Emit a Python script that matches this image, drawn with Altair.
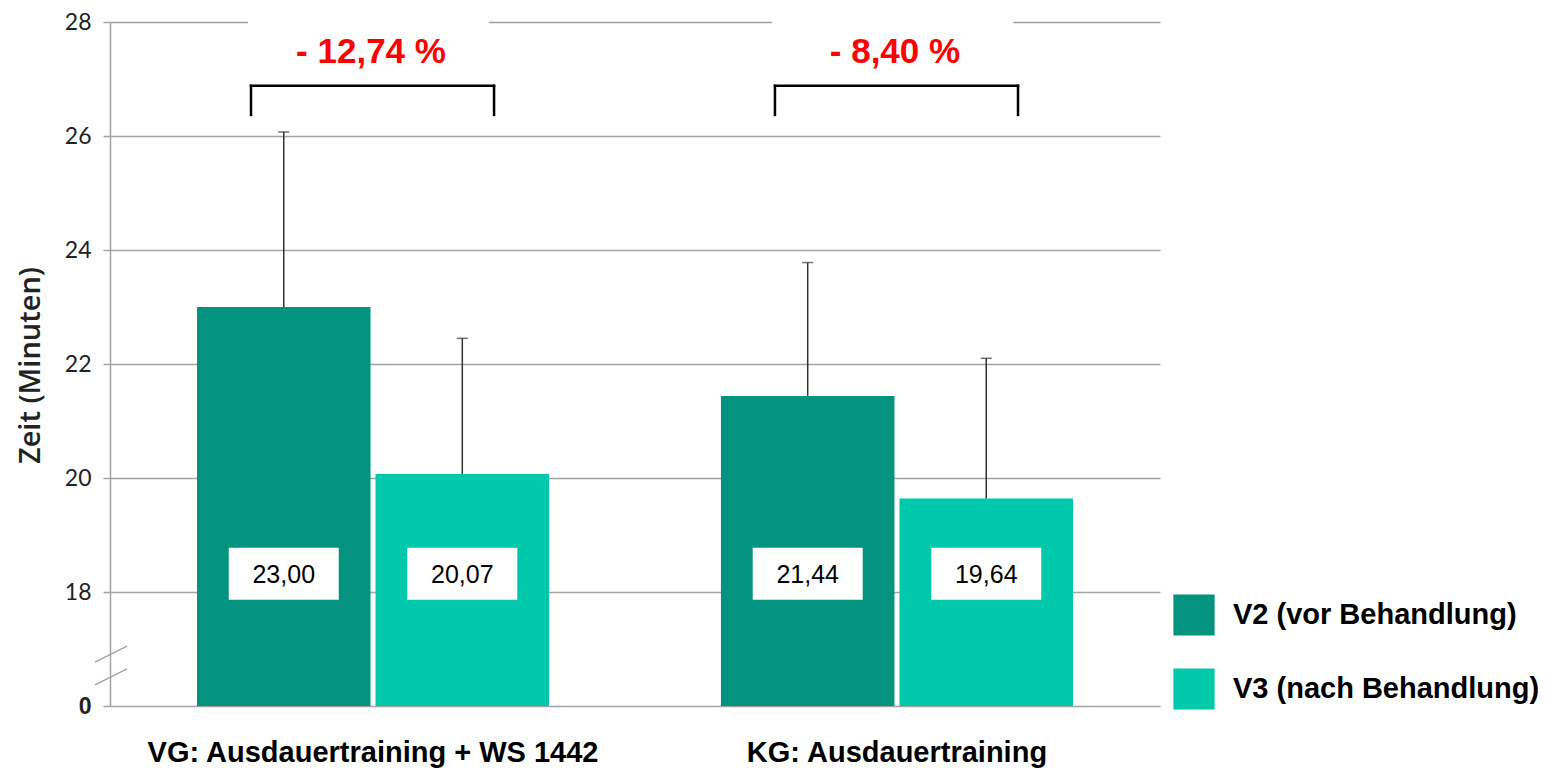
import altair as alt
import pandas as pd

# ---- data ----
groups = ["VG: Ausdauertraining + WS 1442", "KG: Ausdauertraining"]
series = ["V2 (vor Behandlung)", "V3 (nach Behandlung)"]
mean_v2 = [23.00, 21.44]
mean_v3 = [20.07, 19.64]
upper_v2 = [26.07, 23.78]
upper_v3 = [22.45, 22.10]
pct_labels = ["- 12,74 %", "- 8,40 %"]
y_ticks = [16, 18, 20, 22, 24, 26, 28]

colors = ["#03937F", "#00C8AA"]
grid_col = "#a3a3a3"

rows = []
for i, g in enumerate(groups):
    rows.append({"group": g, "series": series[0], "value": mean_v2[i], "upper": upper_v2[i]})
    rows.append({"group": g, "series": series[1], "value": mean_v3[i], "upper": upper_v3[i]})
bars_df = pd.DataFrame(rows)
bars_df["label"] = bars_df["value"].map(lambda v: f"{v:.2f}".replace(".", ","))
grp_df = pd.DataFrame({"group": groups, "pct": pct_labels})
one = pd.DataFrame({"a": [0]})

xscale = alt.Scale(domain=groups, paddingInner=0.328, paddingOuter=0.166)
yscale = alt.Scale(domain=[16, 28], clamp=True, zero=False, nice=False)

X = alt.X("group:N", scale=xscale, sort=groups,
          axis=alt.Axis(title=None, labelAngle=0, domain=False, ticks=False,
                        labelFont="Liberation Sans", labelFontSize=29,
                        labelFontWeight="bold", labelColor="#000000",
                        labelPadding=32, labelLimit=600))
XO = alt.XOffset("series:N", sort=series, scale=alt.Scale(paddingInner=0.028, paddingOuter=0))
Y = alt.Y("value:Q", scale=yscale,
          axis=alt.Axis(values=y_ticks, title="Zeit (Minuten)", format="d",
                        labelExpr="datum.value == 16 ? '0' : datum.label",
                        labelFont=alt.condition("datum.value == 16", alt.value("Liberation Sans"), alt.value("Lato")),
                        labelFontWeight=alt.condition("datum.value == 16", alt.value("bold"), alt.value("normal")),
                        labelFontSize=23, labelColor="#222222", labelPadding=12,
                        grid=True, gridColor=grid_col, gridWidth=1.5,
                        domainColor=grid_col, domainWidth=1.5,
                        tickColor=grid_col, tickWidth=1.5, tickSize=7,
                        titleX=-80, titleY=343, titleAngle=270, titleAlign="center",
                        titleBaseline="middle", titleFont="Open Sans", titleFontWeight=600,
                        titleFontSize=29, titleColor="#222222"))

bars = alt.Chart(bars_df).mark_bar().encode(
    x=X, xOffset=XO, y=Y,
    color=alt.Color("series:N", sort=series,
                    scale=alt.Scale(domain=series, range=colors),
                    legend=alt.Legend(title=None, orient="none", legendX=1063, legendY=572,
                                      symbolType="square", symbolSize=1700, symbolStrokeWidth=0,
                                      symbolOpacity=1, labelFont="Liberation Sans",
                                      labelFontSize=29, labelFontWeight="bold",
                                      labelColor="#000000", labelOffset=18, labelLimit=400,
                                      rowPadding=32, padding=0)),
)

XG = alt.X("group:N", scale=xscale, sort=groups)

err = alt.Chart(bars_df).mark_rule(color="#333333", strokeWidth=1.5).encode(
    x=XG, xOffset=XO,
    y=alt.Y("value:Q", scale=yscale), y2="upper:Q",
)
cap = alt.Chart(bars_df).mark_tick(color="#333333", thickness=1.5, size=11).encode(
    x=XG, xOffset=XO,
    y=alt.Y("upper:Q", scale=yscale),
)

label_y = 18.32
box = alt.Chart(bars_df).mark_point(
    shape="M-1,-0.473L1,-0.473L1,0.473L-1,0.473Z", filled=True, fill="white",
    opacity=1, strokeWidth=0, size=12100,
).encode(
    x=XG, xOffset=XO,
    y=alt.Y(datum=label_y, scale=yscale),
)
vals = alt.Chart(bars_df).mark_text(font="Liberation Sans", fontSize=25, color="#000000",
                                    baseline="middle", dy=1).encode(
    x=XG, xOffset=XO,
    y=alt.Y(datum=label_y, scale=yscale),
    text="label:N",
)

# brackets
bl, br = 54 / 352, 297 / 352
br_low, br_high = 26.37, 26.88
gap = alt.Chart(grp_df).mark_rule(color="white", strokeWidth=5).encode(
    x=alt.X("group:N", scale=xscale, sort=groups, bandPosition=0.145),
    x2=alt.X2("group:N", bandPosition=0.83),
    y=alt.Y(datum=28, scale=yscale),
)
b_left = alt.Chart(grp_df).mark_rule(color="black", strokeWidth=2.5, strokeCap="square").encode(
    x=alt.X("group:N", scale=xscale, sort=groups, bandPosition=bl),
    y=alt.Y(datum=br_low, scale=yscale), y2=alt.Y2(datum=br_high),
)
b_right = alt.Chart(grp_df).mark_rule(color="black", strokeWidth=2.5, strokeCap="square").encode(
    x=alt.X("group:N", scale=xscale, sort=groups, bandPosition=br),
    y=alt.Y(datum=br_low, scale=yscale), y2=alt.Y2(datum=br_high),
)
b_top = alt.Chart(grp_df).mark_rule(color="black", strokeWidth=2.5, strokeCap="square").encode(
    x=alt.X("group:N", scale=xscale, sort=groups, bandPosition=bl),
    x2=alt.X2("group:N", bandPosition=br),
    y=alt.Y(datum=br_high, scale=yscale),
)
pct = alt.Chart(grp_df).mark_text(font="Liberation Sans", fontSize=35, fontWeight="bold",
                                  color="#FF0000", baseline="middle", dx=-2).encode(
    x=XG,
    y=alt.Y(datum=27.47, scale=yscale),
    text="pct:N",
)

# axis break marks
brk1 = alt.Chart(one).mark_rule(color=grid_col, strokeWidth=1.5).encode(
    x=alt.value(-15), x2=alt.value(17),
    y=alt.Y(datum=16.77, scale=yscale), y2=alt.Y2(datum=17.05),
)
brk2 = alt.Chart(one).mark_rule(color=grid_col, strokeWidth=1.5).encode(
    x=alt.value(-15), x2=alt.value(17),
    y=alt.Y(datum=16.37, scale=yscale), y2=alt.Y2(datum=16.65),
)

chart = alt.layer(bars, err, cap, box, vals, gap, b_left, b_right, b_top, pct, brk1, brk2).properties(
    width=1050, height=684,
    autosize=alt.AutoSizeParams(type="none"),
    padding={"left": 102, "top": 14, "right": 378, "bottom": 62},
    background="white",
).configure_view(stroke=None)

chart.save("out.html", embed_options={"renderer": "svg", "actions": False})
